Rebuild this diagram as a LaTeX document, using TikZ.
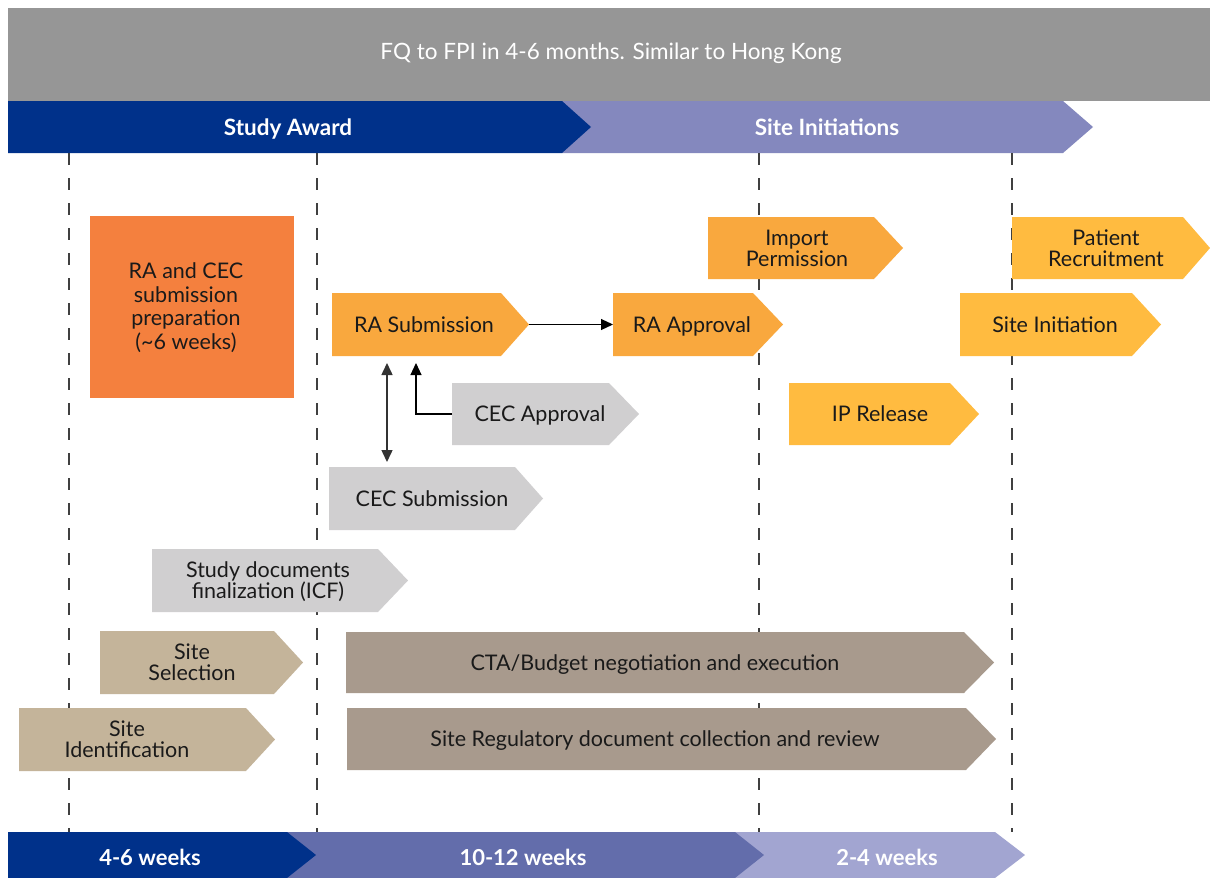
\documentclass[tikz,border=0pt]{standalone}
\usepackage{fontspec}
\setmainfont{Lato}
\usetikzlibrary{arrows.meta,calc}
\definecolor{bannergray}{HTML}{969696}
\definecolor{darkblue}{HTML}{00318A}
\definecolor{lightpurple}{HTML}{8488BE}
\definecolor{midpurple}{HTML}{636DAB}
\definecolor{palepurple}{HTML}{A2A5D1}
\definecolor{deeporange}{HTML}{F4803E}
\definecolor{orangebox}{HTML}{F9A83E}
\definecolor{yellowbox}{HTML}{FFBB40}
\definecolor{graybox}{HTML}{D0CFD0}
\definecolor{tanbox}{HTML}{C4B49A}
\definecolor{brownbox}{HTML}{A89A8D}
\definecolor{dashgray}{HTML}{404040}
\definecolor{txtcol}{HTML}{1A1A1A}
\tikzset{
  txt/.style={font=\fontsize{21.5}{21}\selectfont, text=txtcol, align=center, inner sep=0,
    execute at begin node=\vphantom{Ag}, execute at end node=\vphantom{Ag}},
  bartxt/.style={font=\fontsize{22.5}{22}\selectfont\bfseries, text=white, inner sep=0,
    execute at begin node=\vphantom{Ag}},
  shapenode/.style={inner sep=0, outer sep=0},
  vline/.style={dashgray, line width=1.4pt, dash pattern=on 12pt off 13pt},
  conn/.style={black, line width=1.1pt, -{Triangle[length=12pt,width=11pt]}},
}
% name, colour, x1, y1, x-right-top, x-tip, y2, text-x, text
\newcommand\abox[9]{%
  \fill[#2] (#3,#4) -- (#5,#4) -- (#6,{(#4+#7)/2}) -- (#5,#7) -- (#3,#7) -- cycle;
  \node[shapenode, minimum width={#6-#3}, minimum height={#7-#4}] (#1) at ({(#3+#6)/2},{(#4+#7)/2}) {};
  \node[txt] (#1-t) at (#8,{(#4+#7)/2+2}) {#9};
}
\begin{document}
\begin{tikzpicture}[x=1pt,y=-1pt]
\useasboundingbox[fill=white] (0,0) rectangle (1210,878);
% banner
\fill[bannergray] (8,8) rectangle (1210,101);
\node[font=\fontsize{22.5}{22}\selectfont, text=white, inner sep=0, execute at begin node=\vphantom{Ag}] (banner) at (611,53) {FQ to FPI in 4-6 months. Similar to Hong Kong};
% top phase bar
\fill[lightpurple] (562,101) -- (1063,101) -- (1093,127) -- (1063,153) -- (562,153) -- cycle;
\fill[darkblue] (8,101) -- (562,101) -- (591,127) -- (562,153) -- (8,153) -- cycle;
\node[bartxt] (studyaward) at (288,129) {Study Award};
\node[bartxt] (siteinit) at (827,129) {Site Initiations};
% dashed lines
\foreach \x/\n in {69/a,317/b,759/c,1012/d}{
  \coordinate (top\n) at (\x,153);
  \coordinate (bot\n) at (\x,832);
  \draw[vline] (top\n) -- (bot\n);
}
% bottom bar
\fill[palepurple] (735,832) -- (995,832) -- (1025,855) -- (995,878) -- (735,878) -- cycle;
\fill[midpurple] (287,832) -- (735,832) -- (764,855) -- (735,878) -- (287,878) -- cycle;
\fill[darkblue] (8,832) -- (287,832) -- (316,855) -- (287,878) -- (8,878) -- cycle;
\node[bartxt, font=\fontsize{22}{22}\selectfont\bfseries] (w1) at (150,859) {4-6 weeks};
\node[bartxt, font=\fontsize{22}{22}\selectfont\bfseries] (w2) at (523,859) {10-12 weeks};
\node[bartxt, font=\fontsize{22}{22}\selectfont\bfseries] (w3) at (887,859) {2-4 weeks};
% preparation box
\fill[deeporange] (90,216) rectangle (294,398);
\node[txt, font=\fontsize{21.5}{23.5}\selectfont] (prep) at (186,308) {RA and CEC\\submission\\preparation\\(\textasciitilde6 weeks)};
% arrow boxes
\abox{imp}{orangebox}{708}{217}{874}{903}{279}{797}{Import\\Permission}
\abox{pat}{yellowbox}{1012}{217}{1183}{1210}{279}{1106}{Patient\\Recruitment}
\abox{ras}{orangebox}{332}{293}{501}{529}{356}{424}{RA Submission}
\abox{raa}{orangebox}{613}{293}{753}{783}{356}{692}{RA Approval}
\abox{sin}{yellowbox}{960}{293}{1132}{1161}{356}{1055}{Site Initiation}
\abox{ipr}{yellowbox}{789}{383}{950}{979}{445}{880}{IP Release}
\abox{ceca}{graybox}{452}{383}{609}{639}{445}{540}{CEC Approval}
\abox{cecs}{graybox}{329}{467}{515}{543}{530}{432}{CEC Submission}
\abox{sdf}{graybox}{152}{549}{378}{408}{612}{268}{Study documents\\finalization (ICF)}
\abox{ssel}{tanbox}{100}{631}{274}{303}{694}{192}{Site\\Selection}
\abox{sid}{tanbox}{19}{708}{246}{275}{771}{127}{Site\\Identification}
\abox{cta}{brownbox}{346}{632}{964}{994}{693}{655}{CTA/Budget negotiation and execution}
\abox{srd}{brownbox}{347}{708}{966}{996}{770}{655}{Site Regulatory document collection and review}
% connectors
\draw[conn] (ras.east) -- (raa.west);
\coordinate (vx1) at (387,0);
\coordinate (vx2) at (416,0);
\draw[conn, {Triangle[length=12pt,width=11pt]}-{Triangle[length=12pt,width=11pt]}, line width=1.5pt, draw=black!80, shorten <=7pt, shorten >=5pt] (vx1 |- ras.south) -- (vx1 |- cecs.north);
\draw[conn, shorten >=7pt] (ceca.west) -| (vx2 |- ras.south);
\end{tikzpicture}
\end{document}
